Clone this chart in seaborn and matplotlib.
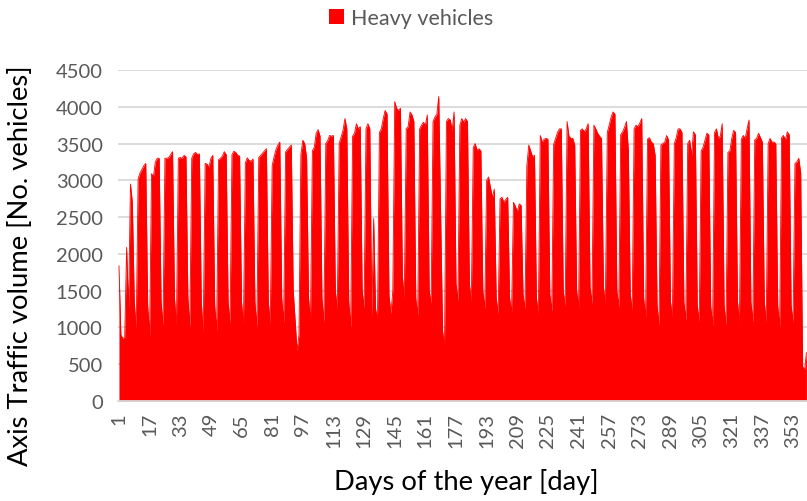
import numpy as np
import pandas as pd
import matplotlib
matplotlib.use("Agg")
import matplotlib.pyplot as plt
import seaborn as sns
from matplotlib.patches import Patch

# ---------------- data (daily heavy-vehicle volumes) ----------------
days_01_10 = [1840, 900, 850, 870, 2090, 1250, 2950, 2700, 1350, 975]

weeks_a = [  # days 11-94 (Mon..Sun)
    3020, 3100, 3150, 3200, 3230, 1300, 886,
    3090, 3050, 3250, 3300, 3300, 1350, 1023,
    3300, 3300, 3310, 3350, 3390, 1400, 1023,
    3300, 3310, 3300, 3340, 3320, 1400, 1000,
    3300, 3360, 3380, 3350, 3360, 1350, 932,
    3230, 3220, 3180, 3300, 3340, 1300, 955,
    3280, 3300, 3330, 3390, 3350, 1350, 1045,
    3350, 3395, 3380, 3340, 3330, 1350, 1023,
    3240, 3305, 3270, 3260, 3290, 1350, 1000,
    3310, 3340, 3370, 3400, 3430, 1350, 1045,
    3200, 3320, 3420, 3480, 3520, 1400, 1068,
    3385, 3420, 3450, 3480, 1500, 1100, 682,
]
weeks_b = [  # days 95-178
    900, 3350, 3545, 3500, 3300, 1400, 1068,
    3400, 3450, 3640, 3690, 3600, 1400, 1068,
    3500, 3540, 3610, 3600, 3610, 1500, 1250,
    3500, 3590, 3680, 3840, 3700, 1350, 1000,
    3600, 3640, 3770, 3700, 3730, 1500, 1250,
    3700, 3770, 3700, 1150, 2480, 1250, 1114,
    3650, 3700, 3840, 3950, 3900, 1450, 1182,
    1500, 4070, 3980, 3950, 3980, 1700, 1395,
    3700, 3730, 3930, 3890, 3800, 1400, 1160,
    3700, 3750, 3790, 3750, 3890, 1500, 1318,
    3800, 3860, 3900, 4140, 2500, 950, 750,
    3800, 3840, 3820, 3680, 3930, 1600, 1350,
]
weeks_c = [  # days 179-262
    3750, 3840, 3790, 3840, 3800, 1600, 1340,
    3450, 3500, 3410, 3430, 3400, 1500, 1250,
    3000, 3045, 2900, 2770, 2880, 1400, 1182,
    2750, 2770, 2700, 2740, 2770, 1400, 1195,
    2700, 2650, 2570, 2680, 2660, 1450, 1250,
    3200, 3480, 3400, 3320, 3340, 1400, 1182,
    3610, 3520, 3560, 3570, 3560, 1450, 1218,
    3490, 3570, 3650, 3700, 3700, 1500, 1286,
    3800, 3600, 3570, 3570, 3480, 1500, 1273,
    3680, 3700, 3660, 3700, 3770, 1550, 1318,
    3750, 3700, 3640, 3600, 3570, 1550, 1318,
    3650, 3750, 3860, 3930, 3900, 1500, 1273,
]
weeks_d = [  # days 263-360
    3620, 3660, 3720, 3800, 3410, 1450, 1227,
    3700, 3750, 3730, 3780, 3840, 1400, 1136,
    3560, 3580, 3520, 3500, 3340, 1300, 1023,
    3480, 3500, 3520, 3610, 3550, 1350, 1136,
    3500, 3580, 3700, 3700, 3650, 1350, 1090,
    3500, 3545, 3340, 3660, 3620, 1300, 1068,
    3400, 3450, 3545, 3640, 3620, 1300, 1023,
    3650, 3700, 3570, 3600, 3770, 1300, 1023,
    3380, 3400, 3570, 3680, 3650, 1350, 1068,
    3560, 3610, 3570, 3700, 3820, 1350, 1068,
    3550, 3570, 3640, 3580, 3520, 1350, 1068,
    3500, 3570, 3520, 3520, 3500, 1300, 1000,
    3580, 3610, 3545, 3660, 3620, 1300, 1068,
    3230, 3250, 3300, 3100, 470, 420, 660,
]

x_tick_days = list(range(1, 354, 16))
y_ticks = [0, 500, 1000, 1500, 2000, 2500, 3000, 3500, 4000, 4500]
series_label = "Heavy vehicles"
x_title = "Days of the year [day]"
y_title = "Axis Traffic volume [No. vehicles]"

volume = days_01_10 + weeks_a + weeks_b + weeks_c + weeks_d
df = pd.DataFrame({"day": np.arange(1, len(volume) + 1), "volume": volume})

# ---------------- styling ----------------
sns.set_theme(style="white")
plt.rcParams["font.family"] = ["Lato", "DejaVu Sans"]

W, H = 807, 502
RED = "#ff0000"
GRID = "#d9d9d9"
TXT = "#595959"

fig = plt.figure(figsize=(W / 100, H / 100), dpi=100)
px_day = 1.915
left_px, bottom_px, top_px = 118, 402, 71
ax = fig.add_axes([left_px / W, (H - bottom_px) / H,
                   366 * px_day / W, (bottom_px - top_px) / H])

ax.fill_between(df["day"], df["volume"], 0, color=RED, lw=0, zorder=2)
sns.lineplot(data=df, x="day", y="volume", ax=ax, color=RED, lw=0.6, zorder=3)

ax.set_xlim(0.5, 366.5)
ax.set_ylim(0, 4500)
ax.set_yticks(y_ticks)
ax.set_yticklabels([str(v) for v in y_ticks])
ax.set_xticks(x_tick_days)
ax.set_xticklabels([str(d) for d in x_tick_days], rotation=90)
ax.yaxis.grid(True, color=GRID, lw=1.3, zorder=0)
ax.set_axisbelow(True)
ax.axhline(0, color=GRID, lw=1.3, zorder=4, clip_on=False)
for s in ax.spines.values():
    s.set_visible(False)
ax.tick_params(axis="both", length=0, labelcolor=TXT, labelsize=14.5)
ax.tick_params(axis="y", pad=11)
ax.tick_params(axis="x", pad=8)
ax.set_xlabel("")
ax.set_ylabel("")

fig.text(466 / W, 1 - 482 / H, x_title, ha="center", va="center",
         fontsize=19.7, color="#000000")
fig.text(21 / W, 1 - 266 / H, y_title, ha="center", va="center",
         rotation=90, fontsize=19.7, color="#000000")

fig.legend(handles=[Patch(facecolor=RED, edgecolor="none", label=series_label)],
           loc="center", bbox_to_anchor=(411 / W, 1 - 19 / H), frameon=False,
           fontsize=15.5, handlelength=0.7, handleheight=0.7, handletextpad=0.35,
           labelcolor=TXT)

fig.savefig("out.png", dpi=100)
